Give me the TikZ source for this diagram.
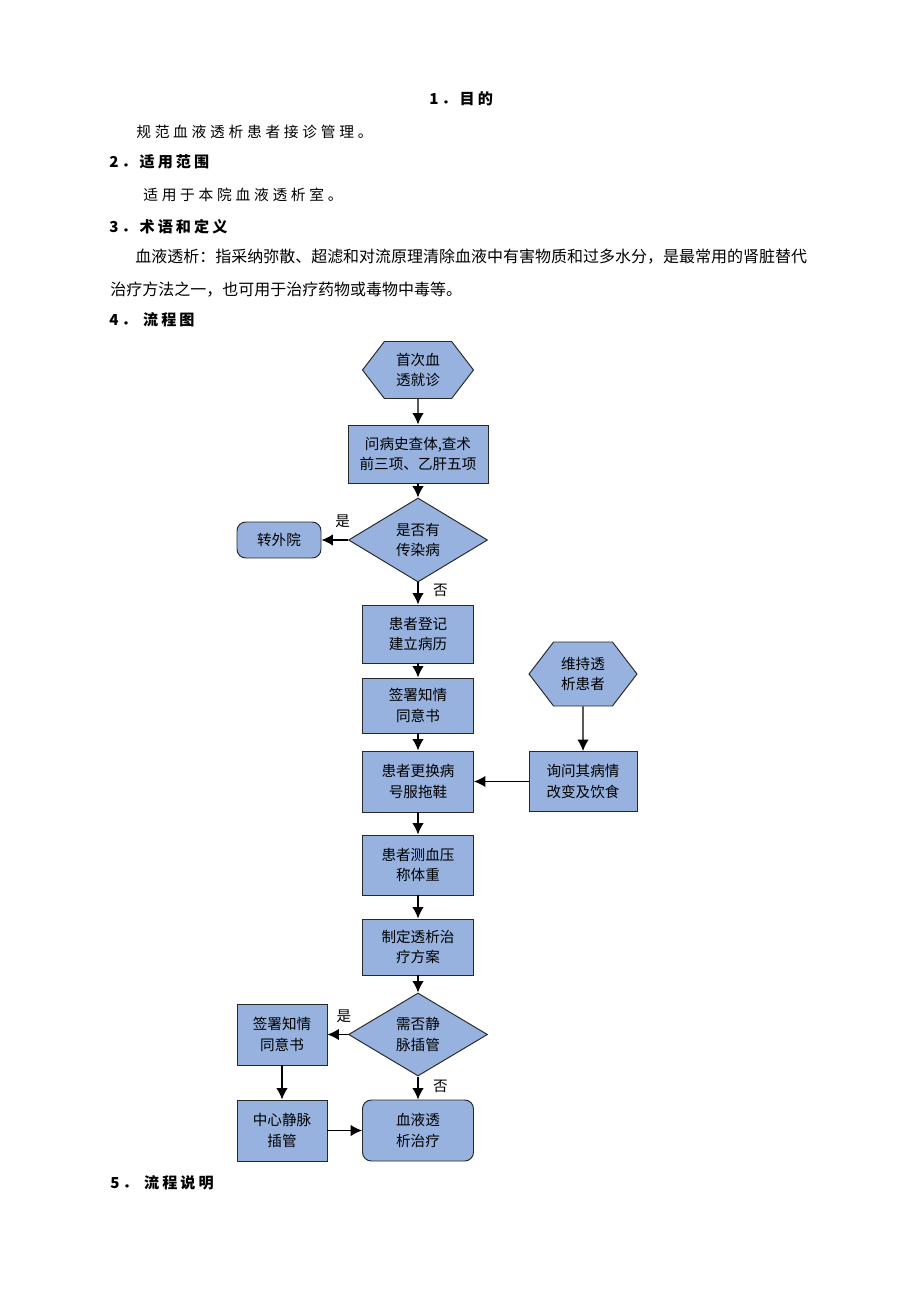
\documentclass[tikz,border=0pt]{standalone}
\usepackage{fontspec}
\setmainfont{Noto Sans CJK SC}
\usepackage{tikz}
\usetikzlibrary{arrows,arrows.meta}
\usetikzlibrary{shapes}
\definecolor{boxblue}{RGB}{151,178,222}
\definecolor{boxline}{RGB}{40,40,40}
\tikzstyle{flow}=[draw=boxline, line width=0.55pt, fill=boxblue, align=center, inner sep=0pt, font=\fontsize{8.3}{11.5}\selectfont]
\tikzstyle{procbox}=[flow, rectangle]
\tikzstyle{endbox}=[flow, rectangle, rounded corners=5pt]
\tikzstyle{hexbox}=[flow, signal, signal to=east and west, signal pointer angle=105]
\tikzstyle{decbox}=[flow, diamond, aspect=1.65]
\tikzstyle{arr}=[-{Latex[length=6.5pt,width=6.5pt]}, line width=0.75pt]
\tikzstyle{yesno}=[inner sep=0pt, font=\fontsize{8.3}{10}\selectfont]
\tikzstyle{plaintext}=[anchor=west, inner sep=0pt, font=\fontsize{9.1}{11}\selectfont]
\tikzstyle{spacedtext}=[anchor=west, inner sep=0pt, font=\fontsize{8.4}{11}\selectfont\addfontfeature{LetterSpace=25}]
\tikzstyle{headtext}=[anchor=west, inner sep=0pt, font=\fontsize{8.6}{11}\selectfont\bfseries\addfontfeature{LetterSpace=20}]

\begin{document}
\begin{tikzpicture}
	\useasboundingbox (0,0) rectangle (18.4,-26.04);
	\node[headtext] (t1) at (8.58,-1.98) {1．目的};
	\node[spacedtext] (p1) at (2.72,-2.64) {规范血液透析患者接诊管理。};
	\node[headtext] (t2) at (2.18,-3.24) {2．适用范围};
	\node[spacedtext] (p2) at (2.86,-3.90) {适用于本院血液透析室。};
	\node[headtext] (t3) at (2.18,-4.54) {3．术语和定义};
	\node[plaintext] (p3a) at (2.70,-5.14) {血液透析：指采纳弥散、超滤和对流原理清除血液中有害物质和过多水分，是最常用的肾脏替代};
	\node[plaintext] (p3b) at (2.20,-5.80) {治疗方法之一，也可用于治疗药物或毒物中毒等。};
	\node[headtext] (t4) at (2.18,-6.40) {4．\ 流程图};
	\node[headtext] (t5) at (2.20,-23.66) {5．\ 流程说明};

	\node[hexbox, minimum width=2.22cm, minimum height=1.14cm] (first) at (8.36,-7.40) {首次血\\透就诊};
	\node[procbox, minimum width=2.80cm, minimum height=1.16cm] (ask) at (8.36,-9.08) {问病史查体,查术\\前三项、乙肝五项};
	\node[decbox, minimum width=2.78cm, minimum height=1.68cm] (infect) at (8.36,-10.80) {是否有\\传染病};
	\node[endbox, minimum width=1.68cm, minimum height=0.72cm] (transfer) at (5.58,-10.80) {转外院};
	\node[procbox, minimum width=2.22cm, minimum height=1.16cm] (register) at (8.36,-12.68) {患者登记\\建立病历};
	\node[procbox, minimum width=2.22cm, minimum height=1.10cm] (consent) at (8.36,-14.11) {签署知情\\同意书};
	\node[procbox, minimum width=2.22cm, minimum height=1.22cm] (change) at (8.36,-15.63) {患者更换病\\号服拖鞋};
	\node[hexbox, minimum width=2.16cm, minimum height=1.28cm] (regular) at (11.66,-13.48) {维持透\\析患者};
	\node[procbox, minimum width=2.16cm, minimum height=1.20cm] (inquire) at (11.66,-15.63) {询问其病情\\改变及饮食};
	\node[procbox, minimum width=2.22cm, minimum height=1.20cm] (measure) at (8.36,-17.30) {患者测血压\\称体重};
	\node[procbox, minimum width=2.22cm, minimum height=1.12cm] (plan) at (8.36,-18.94) {制定透析治\\疗方案};
	\node[decbox, minimum width=2.78cm, minimum height=1.66cm] (cath) at (8.36,-20.69) {需否静\\脉插管};
	\node[procbox, minimum width=1.80cm, minimum height=1.22cm] (consenttwo) at (5.64,-20.69) {签署知情\\同意书};
	\node[procbox, minimum width=1.80cm, minimum height=1.22cm] (cvc) at (5.64,-22.61) {中心静脉\\插管};
	\node[endbox, minimum width=2.22cm, minimum height=1.22cm] (dialysis) at (8.36,-22.61) {血液透\\析治疗};

	\draw[arr] (first) -- (ask);
	\draw[arr] (ask) -- (infect);
	\draw[arr] (infect) -- node[yesno, pos=0.2, above=0.23cm] (yesone) {是} (transfer);
	\draw[arr] (infect) -- node[yesno, pos=0.375, right=0.29cm] (noone) {否} (register);
	\draw[arr] (register) -- (consent);
	\draw[arr] (consent) -- (change);
	\draw[arr] (regular) -- (inquire);
	\draw[arr] (inquire) -- (change);
	\draw[arr] (change) -- (measure);
	\draw[arr] (measure) -- (plan);
	\draw[arr] (plan) -- (cath);
	\draw[arr] (cath) -- node[yesno, pos=0.2, above=0.23cm] (yestwo) {是} (consenttwo);
	\draw[arr] (cath) -- node[yesno, pos=0.45, right=0.29cm] (notwo) {否} (dialysis);
	\draw[arr] (consenttwo) -- (cvc);
	\draw[arr] (cvc) -- (dialysis);
\end{tikzpicture}
\end{document}
